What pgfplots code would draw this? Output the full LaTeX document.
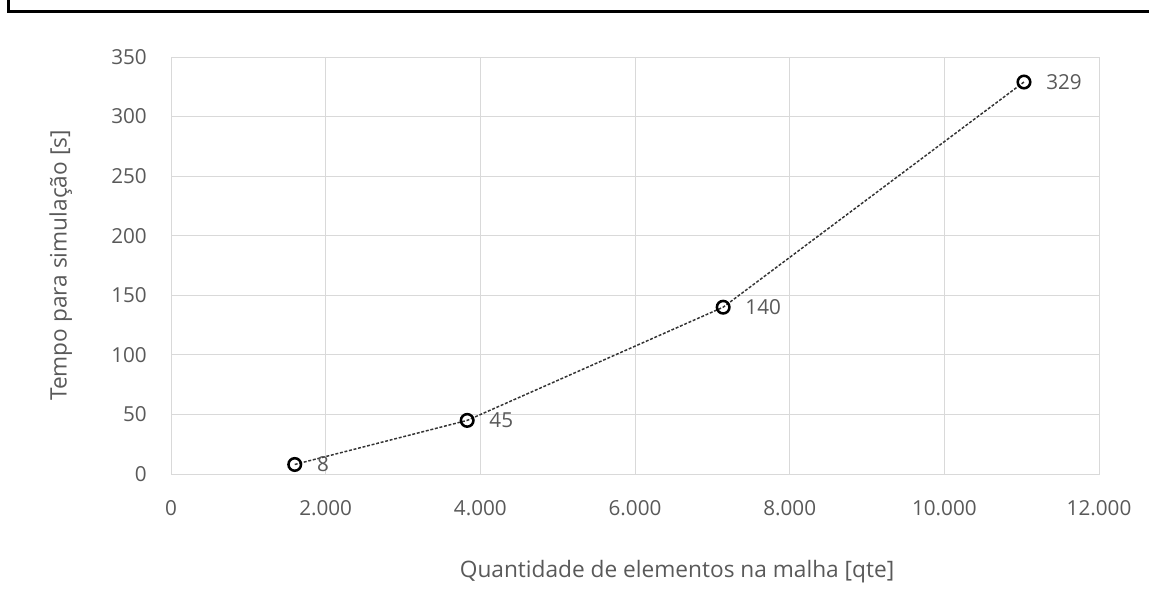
\documentclass[border=0pt]{standalone}
\usepackage{fontspec}
\setmainfont{Open Sans}
\usepackage{pgfplots}
\pgfplotsset{compat=1.18}
\definecolor{gridgray}{HTML}{D9D9D9}
\definecolor{textgray}{HTML}{595959}

\begin{document}
\begin{tikzpicture}[x=0.75pt,y=0.75pt]
% page area and the chart frame (only top and left edges fall inside)
\useasboundingbox (0,0) rectangle (1149,612);
\draw[line width=2.25pt] (8,640) -- (8,600) -- (1180,600);

\begin{axis}[
  at={(128.25pt,103.5pt)}, anchor=south west,
  scale only axis, width=696pt, height=312.75pt,
  xmin=0, xmax=12000, ymin=0, ymax=350,
  xtick={0,2000,...,12000}, ytick={0,50,...,350},
  scaled x ticks=false, scaled y ticks=false,
  grid=major,
  major grid style={draw=gridgray, line width=0.75pt},
  axis line style={draw=gridgray, line width=0.75pt},
  tick style={draw=none},
  /pgf/number format/assume math mode=true,
  /pgf/number format/1000 sep={.},
  ticklabel style={font=\fontsize{15.5}{18}\selectfont, text=textgray},
  yticklabel style={inner sep=0pt, anchor=east, xshift=-18pt},
  xticklabel style={inner sep=0pt, anchor=north, yshift=-19.5pt},
  every axis x label/.style={at={(axis description cs:0.5453,-0.2487)}, anchor=base},
  every axis y label/.style={at={(axis description cs:-0.1124,0.5)}, rotate=90, anchor=base},
  label style={font=\fontsize{17}{20}\selectfont, text=textgray},
  xlabel={Quantidade de elementos na malha [qte]},
  ylabel={Tempo para simulação [s]},
  clip=false,
]
\addplot[sharp plot, color=black!80, line width=1.1pt,
  dash pattern=on 2.2pt off 1.3pt,
  mark=o, mark size=4.7pt,
  mark options={solid, draw=black, line width=1.9pt},
  nodes near coords,
  every node near coord/.append style={anchor=west, inner sep=0pt, xshift=15.75pt,
    font=\fontsize{15.5}{18}\selectfont, text=textgray},
] coordinates {
  (1600,8) (3830,45) (7140,140) (11030,329)
};
\end{axis}
\end{tikzpicture}
\end{document}
